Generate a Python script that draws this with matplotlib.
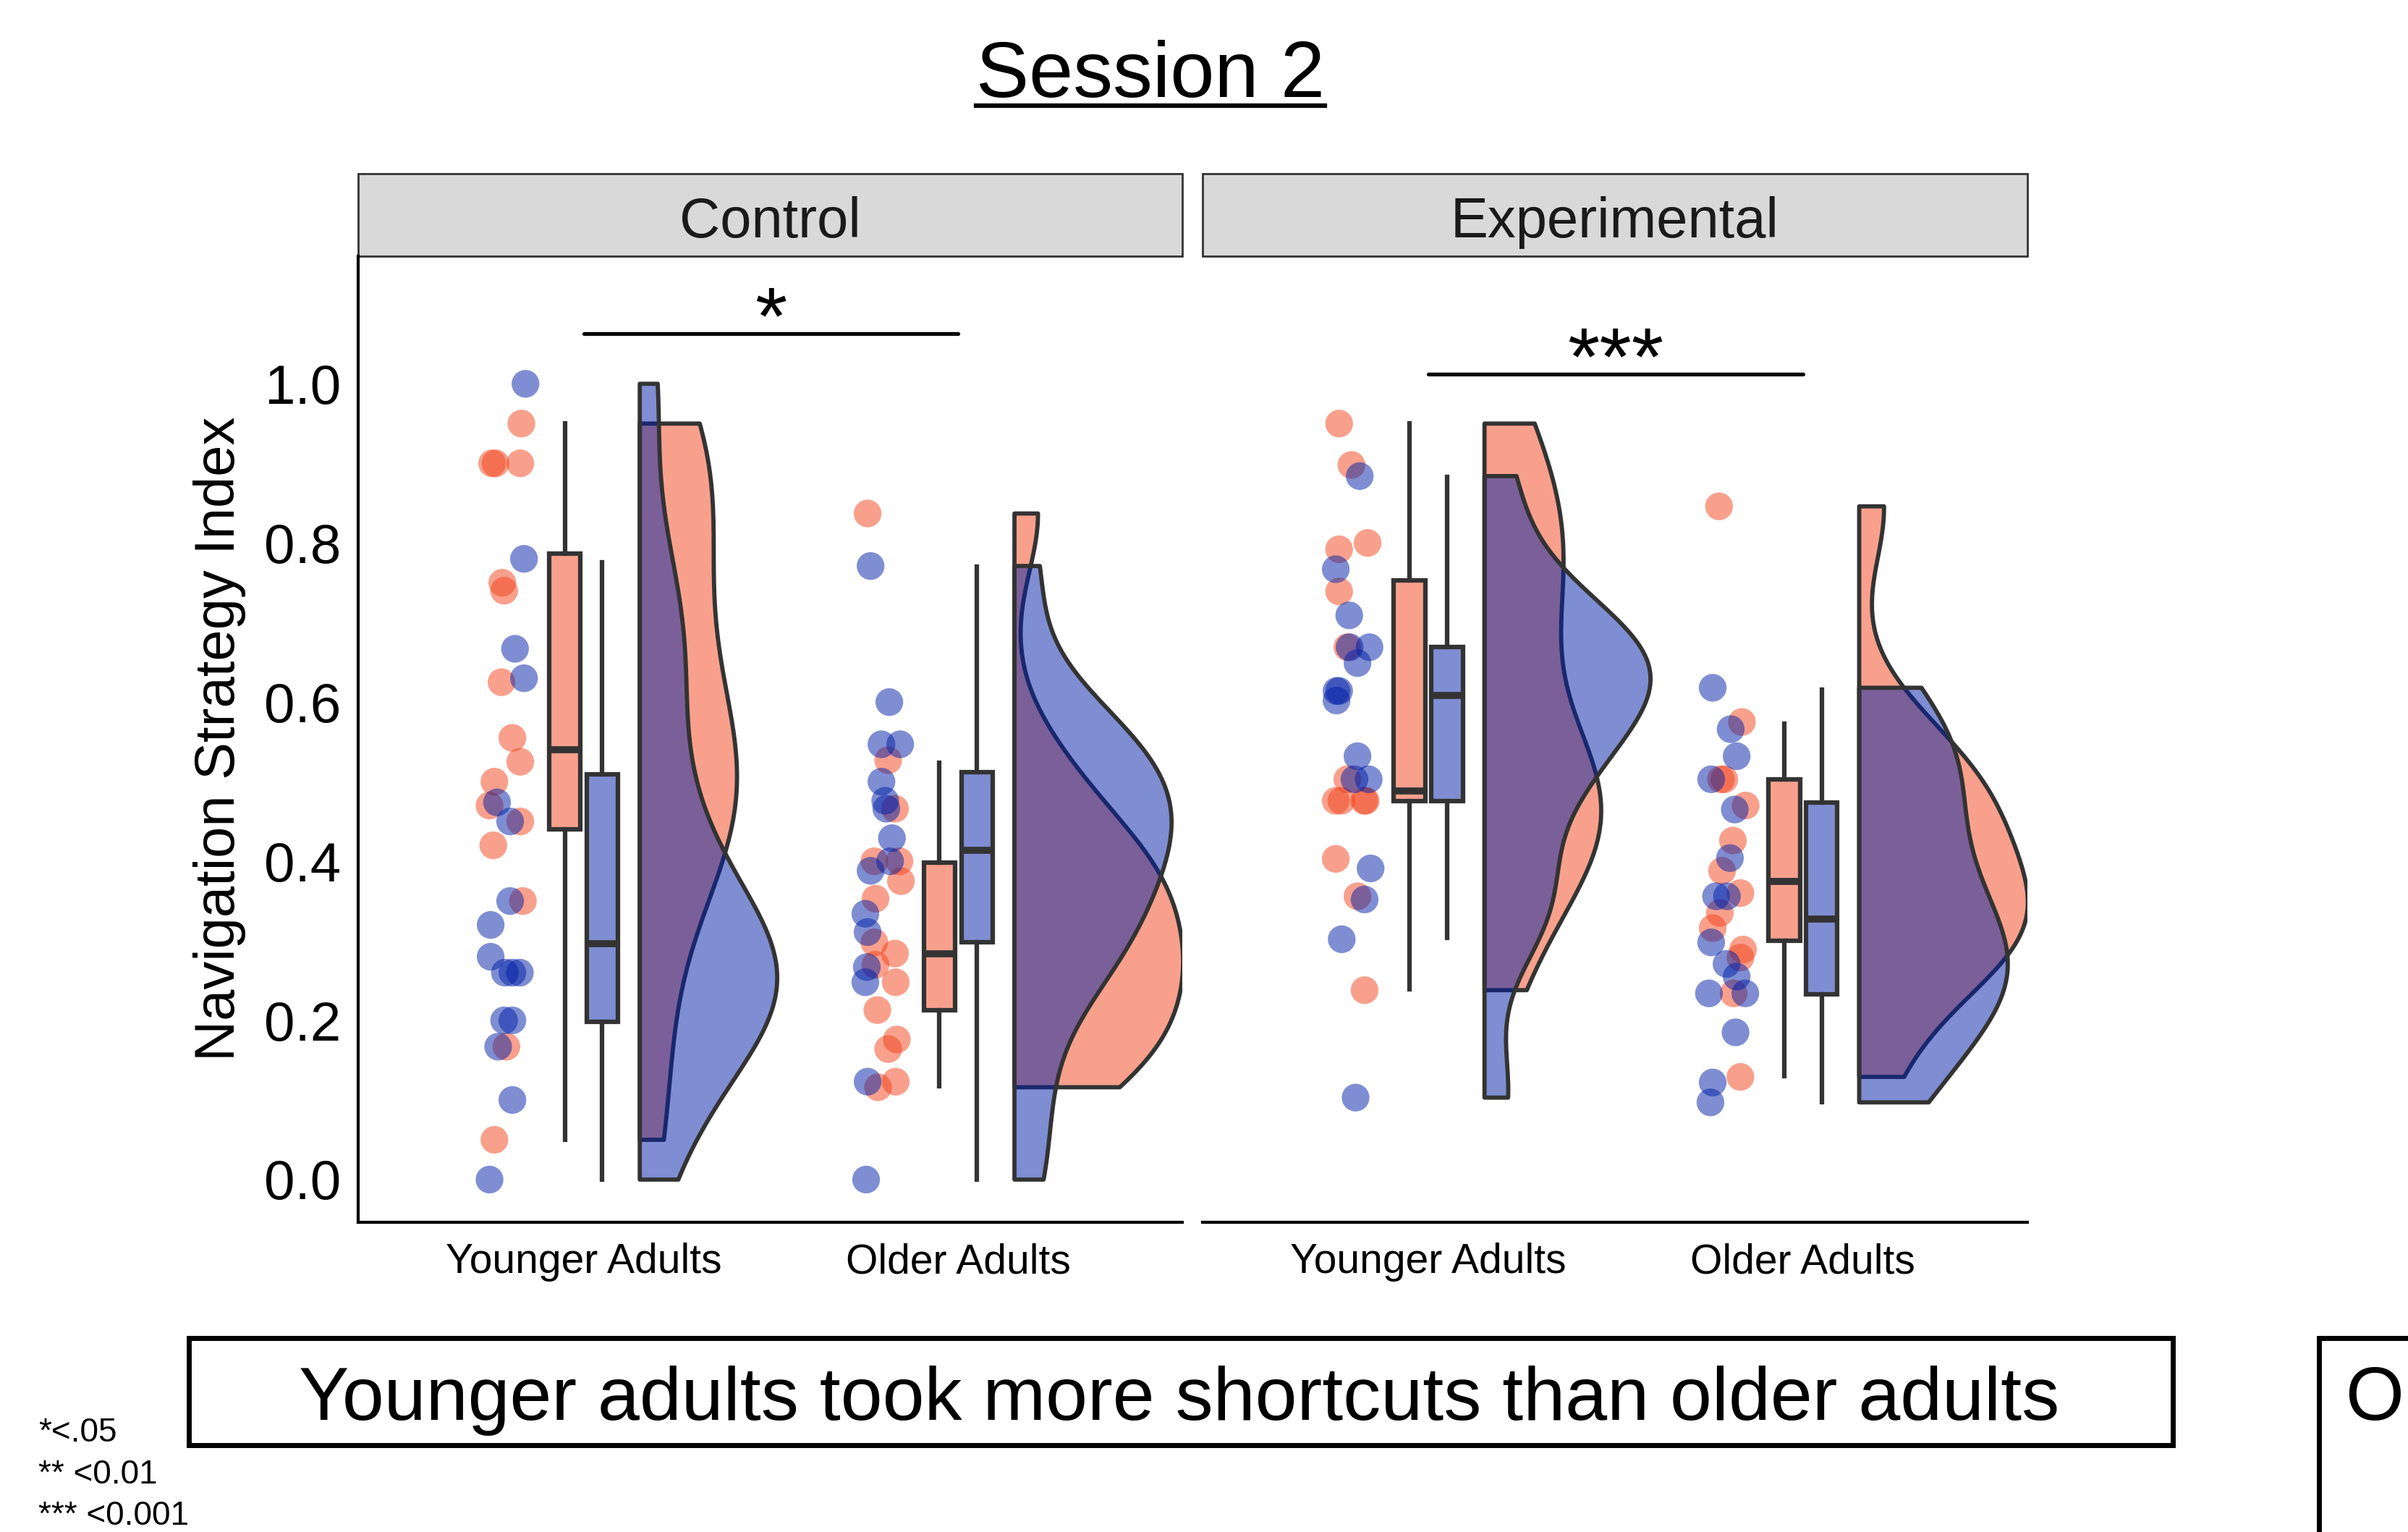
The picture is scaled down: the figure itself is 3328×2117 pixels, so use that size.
import numpy as np
import matplotlib
matplotlib.use("Agg")
import matplotlib.pyplot as plt
from matplotlib.patches import Rectangle, Polygon
from matplotlib.lines import Line2D

plt.rcParams["font.family"] = ["Liberation Sans", "DejaVu Sans"]

PANELS = ["Control", "Experimental"]
GROUPS = ["Younger Adults", "Older Adults"]
YTICKS = [0.0, 0.2, 0.4, 0.6, 0.8, 1.0]

ORANGE = "#F2421A"
BLUE = "#001FA7"
EDGE = "#333333"

# jittered raw points: value and x offset from the group centre
ctrl_young_orange_y = [0.95, 0.90, 0.90, 0.90, 0.75, 0.74, 0.625, 0.555, 0.525, 0.50, 0.47, 0.45, 0.42, 0.35, 0.167, 0.05]
ctrl_young_orange_dx = [-0.166, -0.244, -0.235, -0.169, -0.217, -0.212, -0.219, -0.19, -0.169, -0.238, -0.251, -0.169, -0.241, -0.162, -0.206, -0.238]
ctrl_young_blue_y = [1.0, 0.78, 0.667, 0.63, 0.474, 0.45, 0.35, 0.32, 0.28, 0.26, 0.26, 0.26, 0.2, 0.2, 0.167, 0.1, 0.0]
ctrl_young_blue_dx = [-0.155, -0.159, -0.183, -0.159, -0.231, -0.196, -0.196, -0.248, -0.248, -0.21, -0.17, -0.19, -0.212, -0.19, -0.228, -0.19, -0.251]

ctrl_old_orange_y = [0.837, 0.527, 0.466, 0.40, 0.40, 0.375, 0.353, 0.298, 0.284, 0.27, 0.248, 0.213, 0.176, 0.164, 0.116, 0.123]
ctrl_old_orange_dx = [-0.242, -0.187, -0.169, -0.224, -0.157, -0.153, -0.221, -0.224, -0.169, -0.221, -0.167, -0.216, -0.164, -0.187, -0.214, -0.167]
ctrl_old_blue_y = [0.771, 0.60, 0.547, 0.547, 0.50, 0.476, 0.466, 0.429, 0.40, 0.388, 0.334, 0.311, 0.267, 0.248, 0.123, 0.0]
ctrl_old_blue_dx = [-0.234, -0.184, -0.205, -0.155, -0.205, -0.195, -0.192, -0.177, -0.182, -0.234, -0.248, -0.242, -0.244, -0.248, -0.242, -0.246]

exp_young_orange_y = [0.95, 0.898, 0.80, 0.792, 0.739, 0.669, 0.503, 0.476, 0.476, 0.476, 0.476, 0.403, 0.356, 0.238]
exp_young_orange_dx = [-0.238, -0.205, -0.162, -0.238, -0.238, -0.216, -0.216, -0.247, -0.232, -0.167, -0.171, -0.247, -0.189, -0.17]
exp_young_blue_y = [0.884, 0.767, 0.709, 0.669, 0.669, 0.649, 0.614, 0.614, 0.602, 0.532, 0.503, 0.503, 0.391, 0.352, 0.302, 0.103]
exp_young_blue_dx = [-0.183, -0.247, -0.211, -0.21, -0.157, -0.189, -0.245, -0.238, -0.245, -0.189, -0.197, -0.159, -0.154, -0.17, -0.231, -0.194]

exp_old_orange_y = [0.846, 0.575, 0.503, 0.503, 0.47, 0.426, 0.388, 0.36, 0.335, 0.316, 0.289, 0.279, 0.234, 0.129]
exp_old_orange_dx = [-0.224, -0.163, -0.219, -0.21, -0.153, -0.187, -0.216, -0.167, -0.222, -0.241, -0.16, -0.167, -0.185, -0.167]
exp_old_blue_y = [0.618, 0.566, 0.532, 0.503, 0.465, 0.404, 0.356, 0.356, 0.298, 0.271, 0.255, 0.234, 0.234, 0.185, 0.122, 0.097]
exp_old_blue_dx = [-0.241, -0.193, -0.177, -0.245, -0.182, -0.195, -0.232, -0.203, -0.245, -0.204, -0.177, -0.251, -0.154, -0.18, -0.241, -0.247]

# box stats: whisker low, q1, median, q3, whisker high
ctrl_young_orange_box = [0.05, 0.44, 0.54, 0.787, 0.95]
ctrl_young_blue_box = [0.0, 0.198, 0.296, 0.509, 0.776]
ctrl_old_orange_box = [0.117, 0.213, 0.284, 0.398, 0.524]
ctrl_old_blue_box = [0.0, 0.298, 0.414, 0.512, 0.77]
exp_young_orange_box = [0.239, 0.476, 0.488, 0.753, 0.95]
exp_young_blue_box = [0.304, 0.476, 0.608, 0.669, 0.883]
exp_old_orange_box = [0.13, 0.30, 0.375, 0.503, 0.573]
exp_old_blue_box = [0.097, 0.233, 0.327, 0.474, 0.616]

# significance bars between the two age groups
sig_labels = ["*", "***"]
sig_y = [1.063, 1.012]

footnotes = ["*<.05", "** <0.01", "*** <0.001"]

data = {
    "Control": [
        [(ctrl_young_orange_y, ctrl_young_orange_dx, ctrl_young_orange_box, ORANGE),
         (ctrl_young_blue_y, ctrl_young_blue_dx, ctrl_young_blue_box, BLUE)],
        [(ctrl_old_orange_y, ctrl_old_orange_dx, ctrl_old_orange_box, ORANGE),
         (ctrl_old_blue_y, ctrl_old_blue_dx, ctrl_old_blue_box, BLUE)],
    ],
    "Experimental": [
        [(exp_young_orange_y, exp_young_orange_dx, exp_young_orange_box, ORANGE),
         (exp_young_blue_y, exp_young_blue_dx, exp_young_blue_box, BLUE)],
        [(exp_old_orange_y, exp_old_orange_dx, exp_old_orange_box, ORANGE),
         (exp_old_blue_y, exp_old_blue_dx, exp_old_blue_box, BLUE)],
    ],
}


def kde_nrd0(vals, n=512):
    """Gaussian KDE with R's nrd0 bandwidth, trimmed to the data range."""
    v = np.asarray(vals, dtype=float)
    sd = v.std(ddof=1)
    q75, q25 = np.percentile(v, [75, 25])
    bw = 0.9 * min(sd, (q75 - q25) / 1.34) * len(v) ** -0.2
    grid = np.linspace(v.min(), v.max(), n)
    z = (grid[:, None] - v[None, :]) / bw
    dens = np.exp(-0.5 * z ** 2).sum(axis=1) / (len(v) * bw * np.sqrt(2 * np.pi))
    return grid, dens


def rgba(c, a):
    r, g, b, _ = matplotlib.colors.to_rgba(c)
    return (r, g, b, a)


fig = plt.figure(figsize=(33.28, 21.17), dpi=100)

ax_w = 0.3424
ax_h = 0.6306
ax_b = 0.202
lefts = [0.1486, 0.4994]
strip_h = 0.0541

VIOLIN_BASE = 0.15
VIOLIN_MAX = 0.45
BOX_OFF = 0.05
BOX_W = 0.084

axes = []
for pi, panel in enumerate(PANELS):
    ax = fig.add_axes([lefts[pi], ax_b, ax_w, ax_h])
    axes.append(ax)
    groups = data[panel]

    # violins: densities scaled per panel
    kdes = [[kde_nrd0(s[0]) for s in g] for g in groups]
    dmax = max(d.max() for g in kdes for (_, d) in g)
    for gi, g in enumerate(groups):
        xc = gi + 1
        base = xc + VIOLIN_BASE
        for si, s in enumerate(g):
            grid, dens = kdes[gi][si]
            xs = base + dens / dmax * VIOLIN_MAX
            pts = [(base, grid[0])] + list(zip(xs, grid)) + [(base, grid[-1])]
            ax.add_patch(Polygon(pts, closed=True, facecolor=rgba(s[3], 0.5),
                                 edgecolor=EDGE, linewidth=4.2, joinstyle="round", zorder=2))

    # raw points
    for gi, g in enumerate(groups):
        xc = gi + 1
        for s in g:
            ax.scatter(xc + np.array(s[1]), s[0], s=760, color=s[3], alpha=0.5,
                       edgecolors="none", zorder=3)

    # boxplots
    for gi, g in enumerate(groups):
        xc = gi + 1
        for si, s in enumerate(g):
            lo, q1, med, q3, hi = s[2]
            stats = [dict(whislo=lo, q1=q1, med=med, q3=q3, whishi=hi, fliers=[])]
            pos = xc - BOX_OFF if si == 0 else xc + BOX_OFF
            ax.bxp(stats, positions=[pos], widths=BOX_W, patch_artist=True,
                   showcaps=False, showfliers=False,
                   boxprops=dict(facecolor=rgba(s[3], 0.5), edgecolor=EDGE, linewidth=4.5),
                   whiskerprops=dict(color=EDGE, linewidth=4.5),
                   medianprops=dict(color=EDGE, linewidth=7, solid_capstyle="butt"),
                   zorder=4)

    # significance bar
    ax.plot([1, 2], [sig_y[pi], sig_y[pi]], color="black", linewidth=3.8,
            solid_capstyle="round", zorder=5)
    ax.text(1.5, sig_y[pi] - 0.0125, sig_labels[pi], ha="center", va="baseline",
            fontsize=82, color="black", zorder=5)

    ax.set_xlim(0.3975, 2.598)
    ax.set_ylim(-0.054, 1.16)
    ax.set_xticks([1, 2])
    ax.set_xticklabels(GROUPS, fontsize=41)
    ax.tick_params(axis="x", length=0, pad=20)
    for sp in ["top", "right"]:
        ax.spines[sp].set_visible(False)
    ax.spines["bottom"].set_linewidth(3)
    ax.spines["left"].set_linewidth(3)
    if pi == 0:
        ax.set_yticks(YTICKS)
        ax.set_yticklabels([f"{t:.1f}" for t in YTICKS], fontsize=55)
        ax.tick_params(axis="y", length=0, pad=17)
    else:
        ax.spines["left"].set_visible(False)
        ax.set_yticks([])

    # facet strip
    ax.add_patch(Rectangle((0, 1), 1, strip_h / ax_h, transform=ax.transAxes,
                           facecolor="#D9D9D9", edgecolor=EDGE, linewidth=2,
                           clip_on=False, zorder=1))
    ax.text(0.5, 1 + strip_h / ax_h / 2 - 0.008, panel, transform=ax.transAxes,
            ha="center", va="center", fontsize=56, color="#1a1a1a")

fig.text(0.0912, 0.5177, "Navigation Strategy Index", rotation=90,
         ha="center", va="center", fontsize=56)

# title with underline
title = fig.text(0.4777, 0.950, "Session 2", ha="center", va="center", fontsize=79)
fig.canvas.draw()
bb = title.get_window_extent().transformed(fig.transFigure.inverted())
fig.add_artist(Line2D([bb.x0, bb.x1], [0.9308, 0.9308], color="black",
                      linewidth=4.5, transform=fig.transFigure))

# caption box
fig.add_artist(Rectangle((0.0784, 0.0567), 0.9023 - 0.0784, 0.1266 - 0.0567,
                         transform=fig.transFigure, facecolor="white",
                         edgecolor="black", linewidth=5))
fig.text(0.4898, 0.0857, "Younger adults took more shortcuts than older adults",
         ha="center", va="center", fontsize=75)

# partially visible neighbouring box
fig.add_artist(Rectangle((0.963, -0.2), 0.3, 0.1266 + 0.2,
                         transform=fig.transFigure, facecolor="white",
                         edgecolor="black", linewidth=5, clip_on=False))
fig.text(0.974, 0.0857, "O", ha="left", va="center", fontsize=75)

for i, t in enumerate(footnotes):
    fig.text(0.016, [0.0647, 0.0375, 0.0105][i], t, ha="left", va="center", fontsize=33)

fig.savefig("out.png", dpi=100)
